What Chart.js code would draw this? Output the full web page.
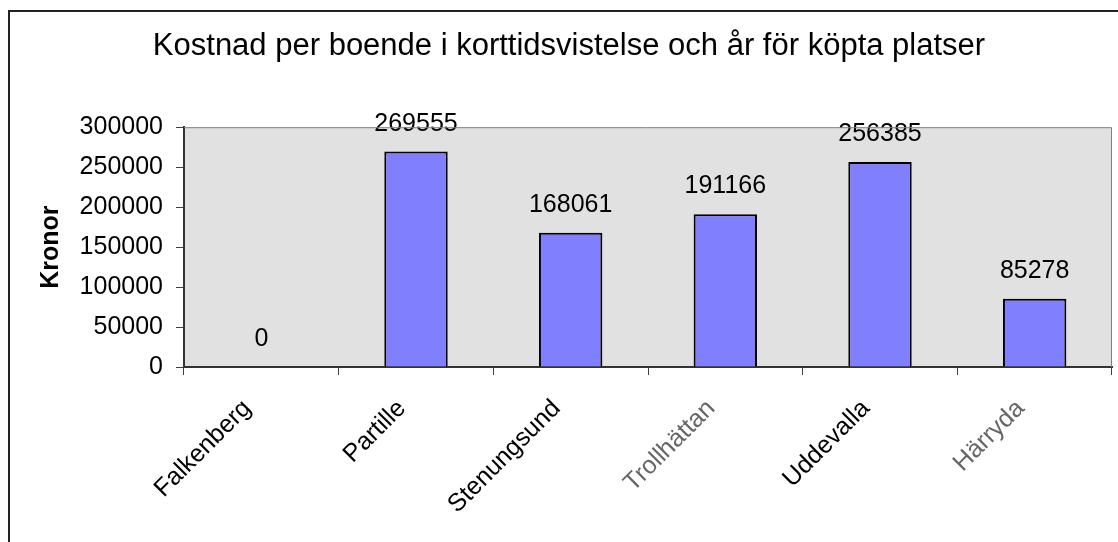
<!DOCTYPE html>
<html>
<head>
<meta charset="utf-8">
<script src="https://cdn.jsdelivr.net/npm/chart.js@4/dist/chart.umd.min.js"></script>
<style>
    html, body { margin: 0; padding: 0; background: #fff; overflow: hidden; }
    #wrap { position: absolute; left: 0; top: 0; width: 1140px; height: 560px; }
</style>
</head>
<body>
<div id="wrap"><canvas id="kostnadChart"></canvas></div>
<script>
// ======= Data =======
const kommuner = ['Falkenberg', 'Partille', 'Stenungsund', 'Trollhättan', 'Uddevalla', 'Härryda'];
const kostnad = [0, 269555, 168061, 191166, 256385, 85278];
const yTicks = [0, 50000, 100000, 150000, 200000, 250000, 300000];

const FONT = 'Liberation Sans, Arial, sans-serif';

// ======= Ram, bakgrund och etiketter =======
const ramPlugin = {
    id: 'ram',
    beforeDraw(chart) {
        const { ctx, chartArea } = chart;
        ctx.save();
        ctx.fillStyle = '#fff';
        ctx.fillRect(0, 0, chart.width, chart.height);
        ctx.strokeStyle = '#222';
        ctx.lineWidth = 2;
        ctx.strokeRect(9, 11, chart.width + 20, chart.height + 20);
        ctx.fillStyle = '#e1e1e1';
        ctx.fillRect(chartArea.left, chartArea.top, chartArea.right - chartArea.left, chartArea.bottom - chartArea.top);
        ctx.restore();
    },
    afterDraw(chart) {
        const { ctx, chartArea } = chart;
        ctx.save();
        ctx.strokeStyle = '#808080';
        ctx.lineWidth = 1;
        ctx.beginPath();
        ctx.moveTo(chartArea.left, chartArea.top + 0.5);
        ctx.lineTo(chartArea.right - 0.5, chartArea.top + 0.5);
        ctx.lineTo(chartArea.right - 0.5, chartArea.bottom);
        ctx.stroke();
        ctx.restore();
    }
};

const etikettPlugin = {
    id: 'etiketter',
    afterDatasetsDraw(chart) {
        const { ctx } = chart;
        const meta = chart.getDatasetMeta(0);
        ctx.save();
        ctx.font = '25px ' + FONT;
        ctx.fillStyle = '#000';
        ctx.textAlign = 'center';
        ctx.textBaseline = 'alphabetic';
        meta.data.forEach((bar, i) => {
            ctx.fillText(String(kostnad[i]), bar.x, bar.y - 21);
        });
        ctx.restore();
    }
};

const ctx = document.getElementById('kostnadChart').getContext('2d');
const chart = new Chart(ctx, {
    type: 'bar',
    data: {
        labels: kommuner,
        datasets: [{
            data: kostnad,
            backgroundColor: '#8080ff',
            borderColor: '#000',
            borderWidth: 2,
            borderSkipped: 'bottom',
            barPercentage: 0.41,
            categoryPercentage: 1
        }]
    },
    options: {
        responsive: true,
        maintainAspectRatio: false,
        animation: false,
        layout: {
            padding: { left: 26, right: 28, top: 28, bottom: 0 }
        },
        plugins: {
            legend: { display: false },
            tooltip: { enabled: false },
            title: {
                display: true,
                text: 'Kostnad per boende i korttidsvistelse och år för köpta platser',
                color: '#000',
                font: { family: FONT, size: 31, weight: 'normal', lineHeight: 1.2 },
                padding: { top: 0, bottom: 62 }
            }
        },
        scales: {
            x: {
                grid: {
                    offset: true,
                    drawOnChartArea: false,
                    tickLength: 8,
                    color: '#404040',
                    lineWidth: 1
                },
                border: { display: true, color: '#333', width: 2 },
                ticks: {
                    autoSkip: false,
                    maxRotation: 45,
                    minRotation: 45,
                    padding: 19,
                    labelOffset: -14,
                    color: (c) => (c.index === 3 || c.index === 5) ? '#666' : '#000',
                    font: { family: FONT, size: 25 }
                },
                afterFit(scale) { scale.height = 193; }
            },
            y: {
                min: 0,
                max: 300000,
                afterBuildTicks(scale) {
                    scale.ticks = yTicks.map(v => ({ value: v }));
                },
                grid: {
                    drawOnChartArea: false,
                    tickLength: 8,
                    color: '#404040',
                    lineWidth: 1
                },
                border: { display: true, color: '#333', width: 2 },
                ticks: {
                    padding: 13,
                    color: '#000',
                    font: { family: FONT, size: 25 },
                    callback: (v) => String(v)
                },
                title: {
                    display: true,
                    text: 'Kronor',
                    color: '#000',
                    font: { family: FONT, size: 25, weight: 'bold', lineHeight: 1.2 },
                    padding: { top: 10, bottom: 0 }
                },
                afterFit(scale) { scale.width = 158; }
            }
        }
    },
    plugins: [ramPlugin, etikettPlugin]
});
</script>
</body>
</html>
